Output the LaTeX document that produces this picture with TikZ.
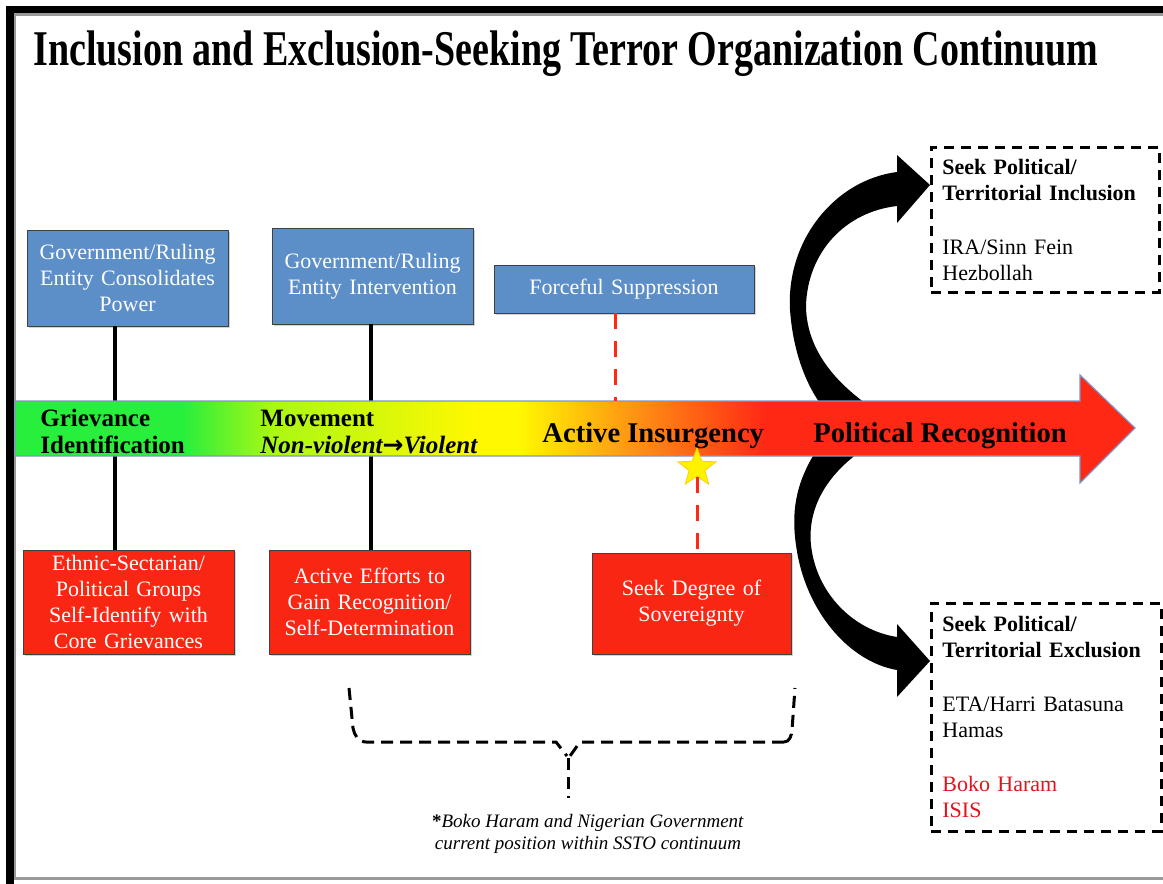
\documentclass[tikz,border=0pt]{standalone}
\usepackage{fontspec}
\setmainfont{Liberation Serif}
\newfontfamily\symfont{DejaVu Sans}
\usepackage{graphicx}
\usetikzlibrary{positioning,shapes.geometric,shadows}
\definecolor{boxblue}{RGB}{92,142,200}
\definecolor{boxred}{RGB}{250,38,20}
\definecolor{cgreen}{RGB}{40,238,60}
\definecolor{cygreen}{RGB}{170,248,20}
\definecolor{cyellow}{RGB}{255,248,0}
\definecolor{corange}{RGB}{255,140,20}
\definecolor{cred}{RGB}{255,40,20}
\definecolor{edgeblue}{RGB}{125,150,200}
\definecolor{textred}{RGB}{225,20,30}
\pgfdeclarehorizontalshading{continuum}{100bp}{color(0bp)=(cgreen); color(32.5bp)=(cgreen); color(36.5bp)=(cygreen); color(45.5bp)=(cyellow); color(47.5bp)=(cyellow); color(53bp)=(corange); color(58.5bp)=(cred); color(100bp)=(cred)}
\tikzset{
every node/.style={font=\fontsize{11}{13}\selectfont},
govbox/.style={draw=black!75, fill=boxblue, text=white, align=center, inner sep=2pt,
  drop shadow={shadow xshift=1pt, shadow yshift=-1pt, opacity=0.35}},
grpbox/.style={govbox, fill=boxred},
stage/.style={font=\fontsize{12.5}{14}\selectfont\bfseries, anchor=base west, inner sep=0pt},
phase/.style={font=\fontsize{14.3}{16}\selectfont\bfseries, anchor=base west, inner sep=0pt},
outcome/.style={draw, line width=1.4pt, dash pattern=on 5pt off 3.5pt, align=left,
  anchor=north west, inner xsep=5.5pt, text width=103pt},
link/.style={line width=2pt},
redlink/.style={cred, line width=1.5pt, dash pattern=on 8pt off 6pt},
brace/.style={line width=1.5pt, dash pattern=on 6pt off 3.5pt},
}

\begin{document}
\begin{tikzpicture}[x=0.5pt, y=-0.5pt]
    \useasboundingbox (0,0) rectangle (1163,884);
    \fill[black] (6,6) rectangle (1163,13);
    \fill[black] (6,6) rectangle (14,884);
    \fill[black!40] (14,13) rectangle (1163,16);
    \fill[black!40] (14,13) rectangle (16,877);
    \fill[black!40] (14,877) rectangle (1163,880);

    \node[anchor=base west, inner sep=0pt] (title) at (33,65)
        {\scalebox{0.76}[1]{\fontsize{25}{30}\selectfont\bfseries Inclusion and Exclusion-Seeking Terror Organization Continuum}};

    \node[govbox, minimum width=100.5pt, minimum height=48pt, text width=96pt] (gov1) at (127.5,278)
        {Government/Ruling\\Entity Consolidates\\Power};
    \node[govbox, minimum width=100.5pt, minimum height=48pt, text width=96pt] (gov2) at (372.5,276)
        {Government/Ruling\\Entity Intervention};
    \node[govbox, minimum width=130pt, minimum height=24pt, text width=125pt] (supp) at (624,289)
        {Forceful Suppression};
    \node[grpbox, minimum width=105.5pt, minimum height=52pt, text width=101pt] (grp1) at (128.5,602)
        {Ethnic-Sectarian/\\Political Groups\\Self-Identify with\\Core Grievances};
    \node[grpbox, minimum width=100.5pt, minimum height=52pt, text width=96pt] (grp2) at (369.5,602)
        {Active Efforts to\\Gain Recognition/\\Self-Determination};
    \node[grpbox, minimum width=99.5pt, minimum height=50.5pt, text width=95pt] (sov) at (691.5,603.5)
        {Seek Degree of\\Sovereignty};

    \node[outcome, minimum height=72.5pt] (incl) at (930,146)
        {\textbf{Seek Political/}\\\textbf{Territorial Inclusion}\\[14pt]IRA/Sinn Fein\\Hezbollah};
    \node[outcome, minimum height=114pt, text width=104pt] (excl) at (930,602)
        {\textbf{Seek Political/}\\\textbf{Territorial Exclusion}\\[14pt]ETA/Harri Batasuna\\Hamas\\[14pt]\textcolor{textred}{Boko Haram}\\\textcolor{textred}{ISIS}};

    \fill[black] (897,172) .. controls (835,180) and (786,240) .. (790,310)
        .. controls (793,350) and (805,385) .. (825,410) -- (875,410)
        .. controls (830,380) and (806,345) .. (806,305)
        .. controls (808,252) and (845,212) .. (897,206) -- cycle;
    \fill[black] (897,155) -- (930,185) -- (897,223) -- cycle;
    \fill[black] (820,445) .. controls (796,480) and (791,510) .. (796,545)
        .. controls (805,612) and (850,662) .. (897,670) -- (897,637)
        .. controls (852,630) and (816,592) .. (811,545)
        .. controls (807,505) and (830,470) .. (870,445) -- cycle;
    \fill[black] (897,624) -- (930,661) -- (897,697) -- cycle;

    \draw[link] ([xshift=-6.25pt]gov1.south) -- ([xshift=-6.25pt]gov1.south |- grp1.north);
    \draw[link] ([xshift=-1pt]gov2.south) -- ([xshift=-1pt]gov2.south |- grp2.north);

    \shade[shading=continuum, draw=edgeblue, line width=0.6pt]
        (15,401) -- (1080,401) -- (1080,375) -- (1135,428) -- (1080,483) -- (1080,456) -- (15,456) -- cycle;
    \coordinate (bandtop) at (615,401);

    \node[stage] (griev) at (40,426) {Grievance};
    \node[stage] (ident) at (40,453) {Identification};
    \node[stage] (move) at (260,426) {Movement};
    \node[stage, font=\fontsize{12.5}{14}\selectfont\bfseries\itshape] (viol) at (260,453)
        {Non-violent{\symfont\bfseries\upshape →}Violent};
    \node[phase] (insurg) at (542,442) {Active Insurgency};
    \node[phase] (recog) at (813,442) {Political Recognition};

    \node[star, star points=5, star point ratio=2.4, fill=yellow, draw=yellow!70!orange,
        minimum size=20pt, inner sep=0pt] (now) at (697,468) {};
    \draw[redlink] ([xshift=-4.5pt]supp.south) -- (bandtop);
    \draw[redlink] (now.south) -- (now.south |- sov.north);

    \draw[brace] (349,688) -- (353,728) to[out=-80, in=180] (366,742) -- (556,742) -- (567,756);
    \draw[brace] (784,742) to[out=0, in=-95] (792,730) -- (795,688);
    \draw[brace] (784,742) -- (580,742) -- (570,756);
    \draw[brace] (568,758) -- (568,798);

    \node[align=center, font=\fontsize{9.5}{11}\selectfont] (note) at (588,834)
        {{\bfseries*}\textit{Boko Haram and Nigerian Government}\\\textit{current position within SSTO continuum}};
\end{tikzpicture}
\end{document}
